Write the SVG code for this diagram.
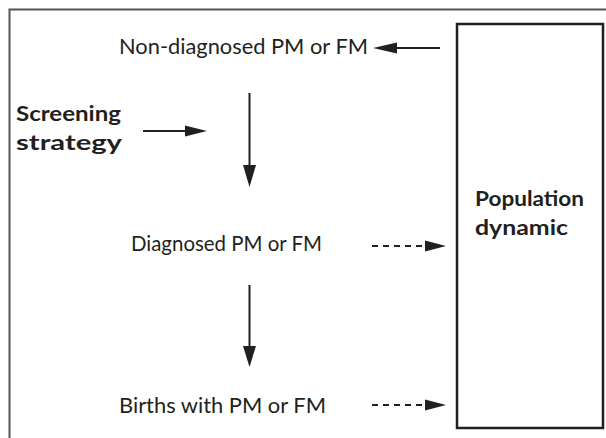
<svg xmlns="http://www.w3.org/2000/svg" width="606" height="438" viewBox="0 0 606 438">
<style>
.t{font-family:Lato,"Liberation Sans",sans-serif;font-size:21px;fill:#231f20}
.b{font-family:Lato,"Liberation Sans",sans-serif;font-size:21px;font-weight:bold;fill:#231f20}
.ln{stroke:#231f20;stroke-width:2;fill:none}
.ds{stroke:#231f20;stroke-width:2;fill:none;stroke-dasharray:6 5}
.hd{fill:#231f20}
</style>
<rect x="0" y="0" width="606" height="438" fill="#fff"/>
<path d="M9.5 440 V9.5 H606" stroke="#555" stroke-width="2" fill="none"/>
<g id="population">
<rect x="457" y="24" width="146" height="404" fill="#fff" stroke="#231f20" stroke-width="2.5"/>
<text class="b" x="475" y="206" textLength="109" lengthAdjust="spacingAndGlyphs">Population</text>
<text class="b" x="475" y="235" textLength="93" lengthAdjust="spacingAndGlyphs">dynamic</text>
</g>
<g id="nondiagnosed"><text class="t" x="119" y="54" textLength="249" lengthAdjust="spacingAndGlyphs">Non-diagnosed PM or FM</text></g>
<g id="screening">
<text class="b" x="16" y="121" textLength="105" lengthAdjust="spacingAndGlyphs">Screening</text>
<text class="b" x="16" y="150" textLength="106" lengthAdjust="spacingAndGlyphs">strategy</text>
</g>
<g id="diagnosed"><text class="t" x="131" y="251" textLength="191" lengthAdjust="spacingAndGlyphs">Diagnosed PM or FM</text></g>
<g id="births"><text class="t" x="119" y="413" textLength="207" lengthAdjust="spacingAndGlyphs">Births with PM or FM</text></g>
<g id="connectors">
<line class="ln" x1="440" y1="48" x2="390" y2="48"/>
<polygon class="hd" points="373,48 397,42.5 397,53.5"/>
<line class="ln" x1="143" y1="131" x2="190" y2="131"/>
<polygon class="hd" points="207,131 185,125.5 185,136.5"/>
<line class="ln" x1="249.5" y1="93" x2="249.5" y2="170"/>
<polygon class="hd" points="249.5,187 243,165 256,165"/>
<line class="ln" x1="249.5" y1="285" x2="249.5" y2="350"/>
<polygon class="hd" points="249.5,367 243,346 256,346"/>
<line class="ds" x1="372" y1="246" x2="427" y2="246"/>
<polygon class="hd" points="446,246 425,240.5 425,251.5"/>
<line class="ds" x1="372" y1="405" x2="427" y2="405"/>
<polygon class="hd" points="446,405 425,399.5 425,410.5"/>
</g>
</svg>
